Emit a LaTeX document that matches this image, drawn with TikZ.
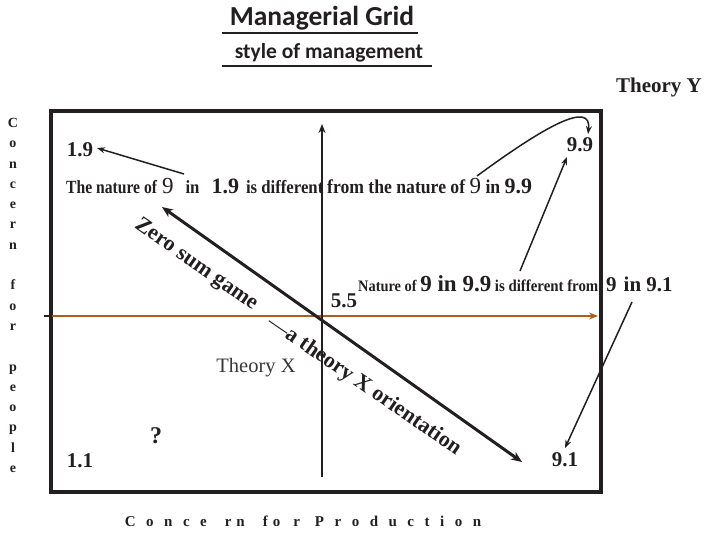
\documentclass[tikz,border=0pt]{standalone}
\usepackage{fontspec}
\setmainfont{Liberation Serif}
\newfontfamily\calib{Carlito}
\newfontfamily\cond[FakeStretch=0.9]{Liberation Serif}
\newfontfamily\condB[FakeStretch=0.84]{Liberation Serif}
\usetikzlibrary{arrows.meta}
\definecolor{ink}{RGB}{35,31,32}
\definecolor{rust}{RGB}{176,92,26}
\definecolor{grayx}{RGB}{55,55,55}
\newcommand{\fsz}[1]{\fontsize{#1}{#1}\selectfont}
\newcommand{\gA}{\hspace{10.5pt}}
\newcommand{\gT}{\hspace{5pt}}
\newcommand{\gW}{\hspace{18pt}}
\newcommand{\gM}{\hspace{13pt}}
\newcommand{\gR}{\hspace{15pt}}
\begin{document}
\begin{tikzpicture}[x=1pt,y=-1pt,
  lbl/.style={inner sep=0pt, text=ink, font=\bfseries\fsz{21}},
  sent/.style={inner sep=0pt, anchor=base west, text=ink},
  thin arrow/.style={draw=ink, line width=1.5pt, -{Stealth[length=8pt,width=6pt]}},
  axis/.style={draw=ink, line width=2pt, -{Stealth[length=9pt,width=7pt]}},
  ul/.style={draw=ink, line width=1.6pt}]
\useasboundingbox (0,0) rectangle (707,543);
% title
\node[inner sep=0pt, anchor=base, font=\calib\bfseries\fsz{27.5}, text=ink] (title) at (322,26) {Managerial Grid};
\coordinate (t1) at (222,33); \coordinate (t2) at (418,33);
\draw[ul] (t1) -- (t2);
\node[inner sep=0pt, anchor=base, font=\calib\bfseries\fsz{21.5}, text=ink] (sub) at (329,59) {style of management};
\coordinate (s1) at (222,66); \coordinate (s2) at (432,66);
\draw[ul] (s1) -- (s2);
\node[lbl, font=\bfseries\fsz{21}] (thy) at (659,87) {Theory Y};
% grid box
\node[draw=ink, line width=4pt, minimum width=550pt, minimum height=381pt, inner sep=0pt] (grid) at (326,301.5) {};
% axes
\coordinate (h0) at (44,316); \coordinate (h1) at (52,316); \coordinate (h2) at (598,316);
\draw[ink, line width=1.5pt] (h0) -- (h1);
\draw[rust, line width=2.5pt, -{Stealth[length=9pt,width=7pt]}] (h1) -- (h2);
\coordinate (v0) at (322,477); \coordinate (v1) at (322,124);
\draw[axis] (v0) -- (v1);
\coordinate (d0) at (162,207); \coordinate (d1) at (522,462);
\draw[ink, line width=3pt, {Stealth[length=11pt,width=9pt]}-{Stealth[length=11pt,width=9pt]}] (d0) -- (d1);
% corner labels
\node[lbl] (n19) at (80,150) {1.9};
\node[lbl] (n99) at (580,145) {9.9};
\node[lbl] (n11) at (80,461) {1.1};
\node[lbl] (n91) at (565,460) {9.1};
\node[lbl] (n55) at (344,301) {5.5};
\node[lbl, font=\bfseries\fsz{24}] (q) at (156,436) {?};
\node[inner sep=0pt, text=grayx, font=\fsz{20.5}] (thx) at (256,368) {Theory X};
% sentences
\node[sent] (line1a) at (66,193)
  {{\condB\bfseries\fsz{18.6}The nature of}\hspace{5pt}{\fsz{23}9}\hspace{12pt}{\cond\bfseries\fsz{18.6}in}\hspace{12pt}{\bfseries\fsz{22}1.9}\hspace{7pt}{\cond\bfseries\fsz{18.6}is different}};
\node[sent] (line1b) at (327,193)
  {{\cond\bfseries\fsz{19.6}from the nature of }{\fsz{23}9}{\cond\bfseries\fsz{19.6} in }{\bfseries\fsz{22}9.9}};
\node[sent] (line2a) at (358,291)
  {{\cond\bfseries\fsz{16}Nature of }{\bfseries\fsz{23}9 in 9.9}{\cond\bfseries\fsz{16.5}\ is different from}};
\node[sent] (line2b) at (606,291)
  {{\bfseries\fsz{21}9\hspace{7pt}in 9.1}};
% rotated texts
\node[inner sep=0pt, rotate=-35, text=ink, font=\bfseries\fsz{22}] (zero) at (196,265) {Zero sum game};
\node[inner sep=0pt, rotate=-34.5, text=ink, font=\bfseries\fsz{22}] (orient) at (364,386) {{\mdseries\textemdash}a theory X orientation};
% annotation arrows
\coordinate (a0) at (184,174); \coordinate (a1) at (97,148);
\draw[thin arrow] (a0) -- (a1);
\coordinate (c0) at (477,176); \coordinate (c1) at (588,134);
\draw[thin arrow] (c0) .. controls (545,126) and (592,100) .. (c1);
\coordinate (b0) at (520,271); \coordinate (b1) at (567,157);
\draw[thin arrow] (b0) -- (b1);
\coordinate (e0) at (632,302); \coordinate (e1) at (565,448);
\draw[thin arrow] (e0) -- (e1);
% axis titles
\node[inner sep=0pt, anchor=north, align=center, text=ink, font=\bfseries\fontsize{14}{20.3}\selectfont] (ylab) at (13,118)
  {C\\o\\n\\c\\e\\r\\n\\\mbox{}\\f\\o\\r\\\mbox{}\\p\\e\\o\\p\\l\\e};
\node[inner sep=0pt, anchor=base, text=ink, font=\bfseries\fsz{15}] (xlab) at (303,526)
  {C\gA o\gA n\gA c\gA e\gW r\gT n\gW f\gT o\gM r\gR P\gA r\gA o\gA d\gA u\gA c\gA t\gA i\gA o\gA n};
\end{tikzpicture}
\end{document}
